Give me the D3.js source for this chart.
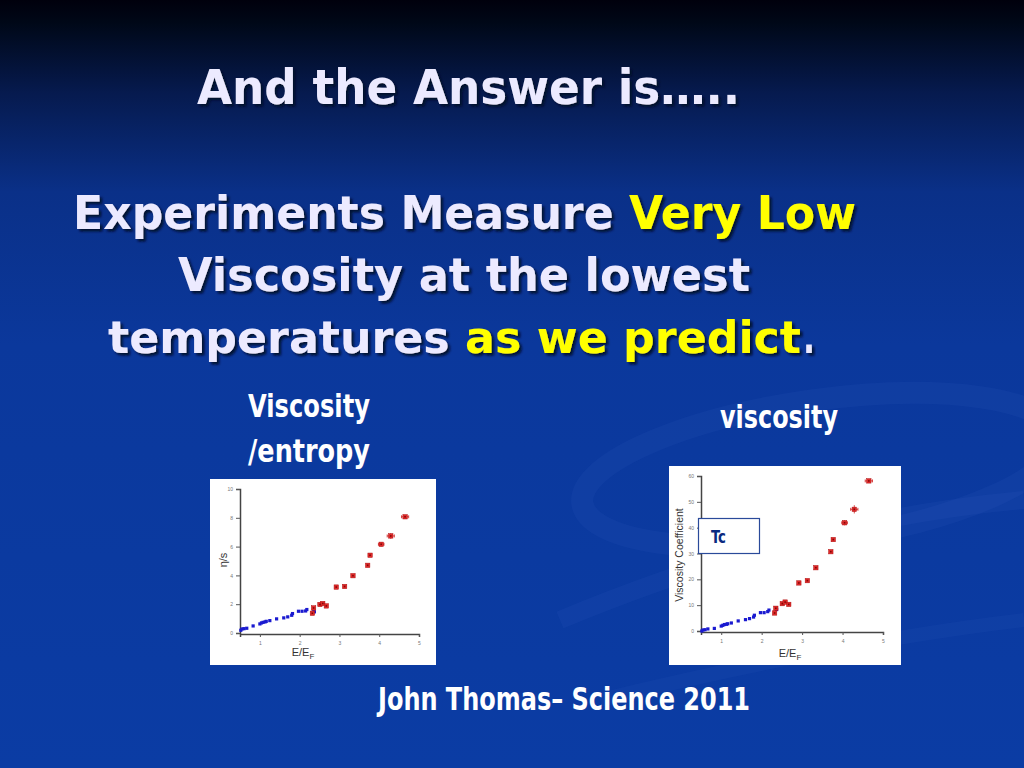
<!DOCTYPE html>
<html><head><meta charset="utf-8">
<script src="https://cdn.jsdelivr.net/npm/d3@7"></script>
<style>html,body{margin:0;padding:0;background:#0b3a9e;overflow:hidden}</style>
</head><body>
<script>
// ---- data ----
const xTicks = [1, 2, 3, 4, 5];
const etaTicks = [0, 2, 4, 6, 8, 10];
const viscTicks = [0, 10, 20, 30, 40, 50, 60];

const blueX    = [0.52,0.55,0.60,0.67,0.83,1.00,1.04,1.08,1.13,1.16,1.25,1.42,1.60,1.70,1.80,1.82,1.97,2.06,2.15,2.18,2.35,2.37];
const blueEtaS = [0.19,0.28,0.30,0.33,0.49,0.63,0.70,0.74,0.77,0.81,0.86,0.98,1.05,1.12,1.23,1.35,1.51,1.51,1.53,1.63,1.65,1.47];
const blueVisc = [0.0,0.4,0.5,0.8,1.0,1.9,2.2,2.5,2.6,2.8,3.1,3.9,4.4,4.8,5.4,6.1,7.1,7.1,7.5,8.1,8.8,8.3];

const redX     = [2.32,2.35,2.51,2.58,2.67,2.92,3.13,3.34,3.71,3.77,4.05,4.29,4.65];
const redEtaS  = [1.37,1.74,1.98,2.05,1.88,3.19,3.23,3.98,4.70,5.40,6.16,6.74,8.07];
const redVisc  = [6.97,8.8,10.6,11.2,10.3,18.6,19.5,24.5,30.7,35.4,41.9,47.1,58.1];
const redXErr  = [0,0,0,0,0,0,0,0,0,0,0.07,0.09,0.09];
const redEtaErr  = [0,0,0,0,0,0,0,0,0,0,0.15,0.2,0.1];
const redViscErr = [0,0,0,0,0,0,0,0,0,0,1.0,1.6,0.8];

const W = 1024, H = 768;
const svg = d3.select("body").append("svg").attr("width", W).attr("height", H);
const defs = svg.append("defs");
const bg = defs.append("linearGradient").attr("id","bg").attr("x1",0).attr("y1",0).attr("x2",0).attr("y2",1);
[["0","#00000c"],["0.03","#000818"],["0.12","#061a4e"],["0.25","#0a3088"],["0.45","#0b389c"],["1","#0b3ca4"]]
  .forEach(([o,c])=>bg.append("stop").attr("offset",o).attr("stop-color",c));
svg.append("rect").attr("width",W).attr("height",H).attr("fill","url(#bg)");
const sh = defs.append("filter").attr("id","shadow").attr("x","-5%").attr("y","-20%").attr("width","110%").attr("height","150%");
sh.append("feDropShadow").attr("dx",2.5).attr("dy",2.5).attr("stdDeviation",0.8).attr("flood-color","#050a28").attr("flood-opacity",0.9);

// faint background swooshes
const sw = svg.append("g").attr("fill","none").attr("stroke","#3a66c8");
sw.append("ellipse").attr("cx",820).attr("cy",470).attr("rx",240).attr("ry",70)
  .attr("transform","rotate(-8 820 470)").attr("stroke-opacity",0.12).attr("stroke-width",22);
sw.append("path").attr("d","M560,620 Q800,520 1024,500").attr("stroke-opacity",0.12).attr("stroke-width",18);
sw.append("path").attr("d","M600,700 Q850,640 1024,620").attr("stroke-opacity",0.1).attr("stroke-width",14);

// ---- titles ----
const titleFont = "'Comic Sans MS','DejaVu Sans',sans-serif";
function line(parts, x, y, width, size) {
  const t = svg.append("text").attr("x",x).attr("y",y).attr("filter","url(#shadow)")
    .attr("font-family",titleFont).attr("font-weight","bold").attr("font-size",size)
    .attr("textLength",width).attr("lengthAdjust","spacingAndGlyphs");
  parts.forEach(([s,c])=>t.append("tspan").text(s).attr("fill",c));
}
line([["And the Answer is…..","#eceaff"]], 197, 104, 543, 48);
line([["Experiments Measure ","#eceaff"],["Very Low","#ffff00"]], 73, 229, 783, 46);
line([["Viscosity at the lowest","#eceaff"]], 178, 291, 572, 46);
line([["temperatures ","#eceaff"],["as we predict","#ffff00"]], 108, 353, 693, 44);
line([[".","#eceaff"]], 803, 353, 12, 44);

const narrow = "'Liberation Sans Narrow','DejaVu Sans Condensed',sans-serif";
function ntext(s, x, y, w, size, fill) {
  svg.append("text").attr("x",x).attr("y",y).text(s).attr("fill",fill||"#ffffff")
    .attr("font-family",narrow).attr("font-size",size).attr("font-weight","bold")
    .attr("textLength",w).attr("lengthAdjust","spacingAndGlyphs");
}
ntext("Viscosity", 248, 417, 122, 32);
ntext("/entropy", 248, 462, 122, 32);
ntext("viscosity", 720, 428, 118, 32);
ntext("John Thomas– Science 2011", 378, 710, 372, 32);

// ---- charts ----
function chart(o) {
  svg.append("rect").attr("x",o.box[0]).attr("y",o.box[1]).attr("width",o.box[2]).attr("height",o.box[3]).attr("fill","#ffffff");
  const x = d3.scaleLinear().domain([0.5,5]).range(o.xr);
  const y = d3.scaleLinear().domain(o.yd).range(o.yr);
  const g = svg.append("g");
  const ax = g.append("g").attr("transform",`translate(0,${o.yr[0]+1})`)
    .call(d3.axisBottom(x).tickValues(xTicks).tickFormat(d3.format("d")).tickSize(3).tickPadding(4));
  const ay = g.append("g").attr("transform",`translate(${o.xr[0]},0)`)
    .call(d3.axisLeft(y).tickValues(o.yt).tickFormat(d3.format("d")).tickSize(4).tickPadding(3));
  [ax,ay].forEach(a=>{
    a.select(".domain").attr("stroke","#444").attr("stroke-width",1.5);
    a.selectAll(".tick line").attr("stroke","#555");
    a.selectAll(".tick text").attr("fill","#777").attr("font-size",5).attr("font-family","Liberation Sans,Arial,sans-serif");
  });
  // x label
  const xl = g.append("text").attr("x",o.xlab[0]).attr("y",o.xlab[1]).attr("text-anchor","middle")
    .attr("font-family","Liberation Sans,Arial,sans-serif").attr("font-size",11).attr("fill","#333");
  xl.append("tspan").text("E/E");
  xl.append("tspan").text("F").attr("font-size",8).attr("dy",3);
  // y label
  g.append("text").attr("transform",`translate(${o.ylab[0]},${o.ylab[1]}) rotate(-90)`).attr("text-anchor","middle")
    .attr("font-family","Liberation Sans,Arial,sans-serif").attr("font-size",o.ylabSize).attr("fill","#333").text(o.ylabText);

  // error bars
  const eb = g.append("g").attr("stroke","#d02020").attr("stroke-width",0.8);
  redX.forEach((xv,i)=>{
    if (redXErr[i] > 0) {
      const yy = y(o.ry[i]);
      eb.append("line").attr("x1",x(xv-redXErr[i])).attr("x2",x(xv+redXErr[i])).attr("y1",yy).attr("y2",yy);
      eb.append("line").attr("x1",x(xv-redXErr[i])).attr("x2",x(xv-redXErr[i])).attr("y1",yy-1.5).attr("y2",yy+1.5);
      eb.append("line").attr("x1",x(xv+redXErr[i])).attr("x2",x(xv+redXErr[i])).attr("y1",yy-1.5).attr("y2",yy+1.5);
      eb.append("line").attr("x1",x(xv)).attr("x2",x(xv)).attr("y1",y(o.ry[i]+o.re[i])).attr("y2",y(o.ry[i]-o.re[i]));
    }
  });
  // blue points
  g.append("g").selectAll("rect").data(blueX).join("rect")
    .attr("x",(d)=>x(d)-1.6).attr("y",(d,i)=>y(o.by[i])-1.6).attr("width",3.2).attr("height",3.2)
    .attr("fill","#1a1ad0");
  // red points
  g.append("g").selectAll("rect").data(redX).join("rect")
    .attr("x",(d)=>x(d)-2.2).attr("y",(d,i)=>y(o.ry[i])-2.2).attr("width",4.4).attr("height",4.4)
    .attr("fill","#e02a2a").attr("stroke","#b01010").attr("stroke-width",0.5);
  g.append("g").selectAll("rect").data(redX).join("rect")
    .attr("x",(d)=>x(d)-0.8).attr("y",(d,i)=>y(o.ry[i])-0.8).attr("width",1.6).attr("height",1.6)
    .attr("fill","#800808");
}

chart({box:[210,479,226,186], xr:[240,419], yd:[0,10], yr:[633,489], yt:etaTicks,
  by:blueEtaS, ry:redEtaS, re:redEtaErr, xlab:[303,656], ylab:[227,560], ylabSize:11, ylabText:"η/s"});
chart({box:[669,466,232,199], xr:[701,883], yd:[0,60], yr:[631,476], yt:viscTicks,
  by:blueVisc, ry:redVisc, re:redViscErr, xlab:[790,657], ylab:[683,555], ylabSize:10.5, ylabText:"Viscosity Coefficient"});

// Tc box
svg.append("rect").attr("x",698.5).attr("y",518.5).attr("width",61).attr("height",35)
  .attr("fill","#ffffff").attr("stroke","#2a4a9a").attr("stroke-width",1.2);
svg.append("text").attr("x",711).attr("y",543).text("Tc").attr("fill","#0a2a80")
  .attr("font-family",narrow).attr("font-weight","bold").attr("font-size",17)
  .attr("textLength",15).attr("lengthAdjust","spacingAndGlyphs");
</script>
</body></html>
